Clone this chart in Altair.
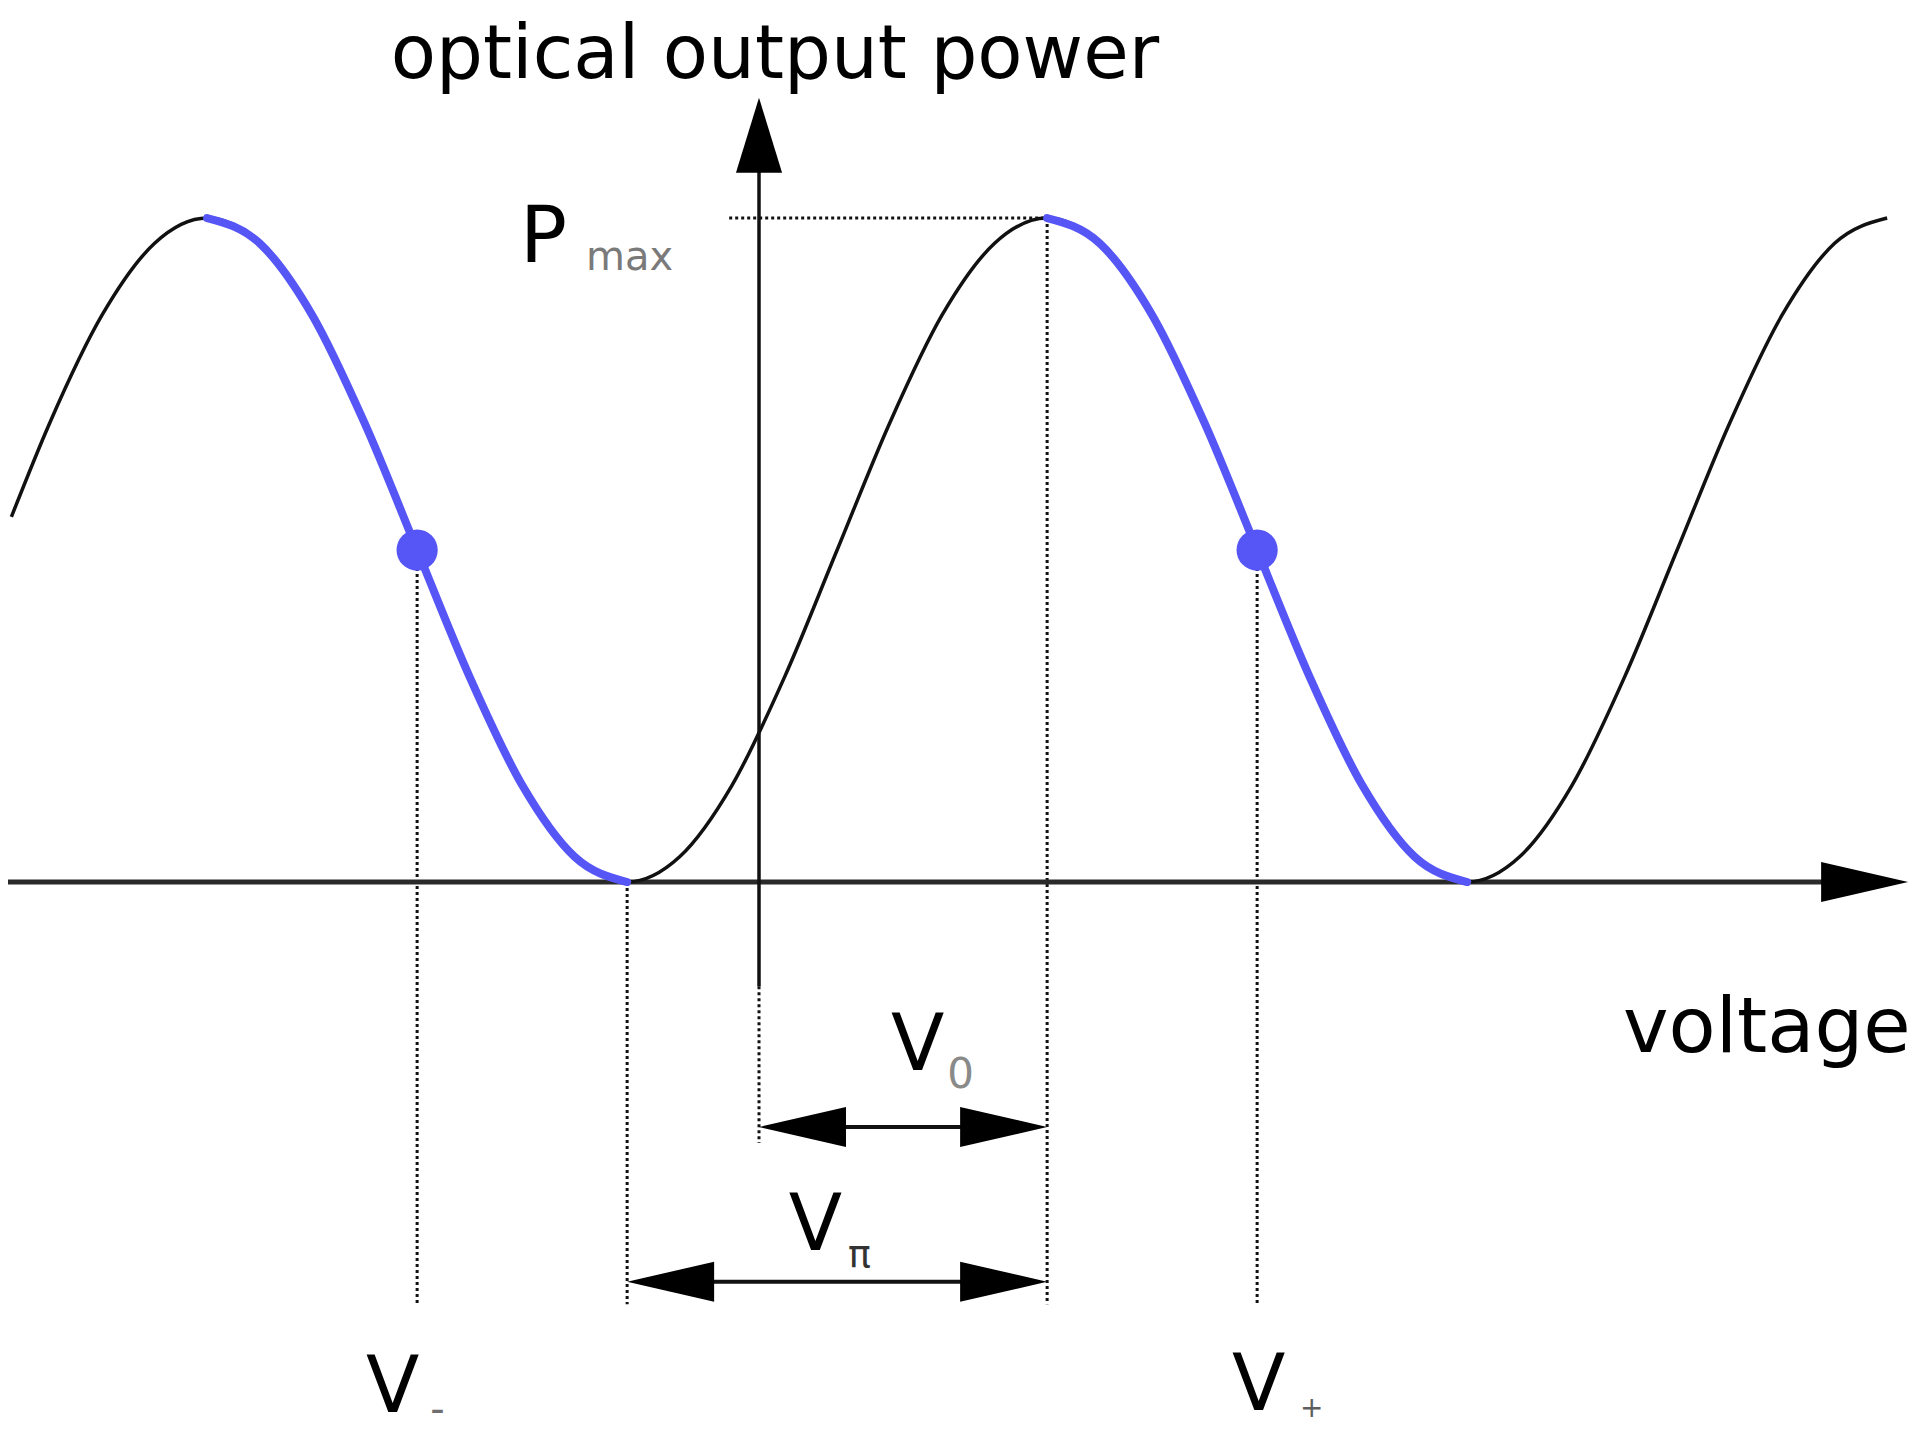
import altair as alt
import pandas as pd

# ---------------- data (voltage in units of V_pi, power in units of P_max) ----------------
V_0 = 0.686          # bias voltage of the peak
V_TROUGH = -0.314    # V_0 - V_pi
V_MINUS = -0.814
V_PLUS = 1.186

curve_v = [-1.78, -1.689, -1.564, -1.439,
           -1.314, -1.189, -1.064, -0.939, -0.814, -0.689, -0.564, -0.439, -0.314,
           -0.189, -0.064, 0.061, 0.186, 0.311, 0.436, 0.561, 0.686,
           0.811, 0.936, 1.061, 1.186, 1.311, 1.436, 1.561, 1.686,
           1.811, 1.936, 2.061, 2.186, 2.311, 2.436, 2.561, 2.686]
curve_p = [0.55, 0.691, 0.854, 0.962,
           1.0, 0.962, 0.854, 0.691, 0.5, 0.309, 0.146, 0.038, 0.0,
           0.038, 0.146, 0.309, 0.5, 0.691, 0.854, 0.962, 1.0,
           0.962, 0.854, 0.691, 0.5, 0.309, 0.146, 0.038, 0.0,
           0.038, 0.146, 0.309, 0.5, 0.691, 0.854, 0.962, 1.0]

blue_seg = [1] * 9 + [2] * 9
blue_v = [-1.314, -1.189, -1.064, -0.939, -0.814, -0.689, -0.564, -0.439, -0.314,
          0.686, 0.811, 0.936, 1.061, 1.186, 1.311, 1.436, 1.561, 1.686]
blue_p = [1.0, 0.962, 0.854, 0.691, 0.5, 0.309, 0.146, 0.038, 0.0,
          1.0, 0.962, 0.854, 0.691, 0.5, 0.309, 0.146, 0.038, 0.0]

bias_v = [V_MINUS, V_PLUS]
bias_p = [0.5, 0.5]

# ---------------- layout ----------------
XMIN, XMAX = -1.7881, 2.7452
YMIN, YMAX = -0.8283, 1.3163
BLUE = "#5656f6"
FONT = "DejaVu Sans"

X = alt.X("v:Q", scale=alt.Scale(domain=[XMIN, XMAX], nice=False, zero=False), axis=None)
Y = alt.Y("p:Q", scale=alt.Scale(domain=[YMIN, YMAX], nice=False, zero=False), axis=None)


def segs(rows):
    return pd.DataFrame(rows, columns=["v", "p", "v2", "p2"])


def rule_layer(df, **kw):
    return alt.Chart(df).mark_rule(**kw).encode(x=X, y=Y, x2="v2:Q", y2="p2:Q")


# dotted guide lines
dotted = segs([
    [V_MINUS, 0.5, V_MINUS, -0.636],
    [V_TROUGH, 0.0, V_TROUGH, -0.636],
    [V_0, 1.0, V_0, -0.636],
    [V_PLUS, 0.5, V_PLUS, -0.636],
    [-0.071, 1.0, V_0, 1.0],
    [0.0, -0.157, 0.0, -0.393],
])
l_dotted = rule_layer(dotted, color="#111111", strokeWidth=3, strokeDash=[3, 3])

# axes lines
l_xaxis = rule_layer(segs([[-1.80, 0.0, 2.56, 0.0]]), color="#2a2a2a", strokeWidth=5)
l_yaxis = rule_layer(segs([[0.0, -0.157, 0.0, 1.10]]), color="#111111", strokeWidth=3.5)
l_dims = rule_layer(segs([[0.05, -0.369, 0.64, -0.369],
                          [-0.26, -0.602, 0.64, -0.602]]), color="#111111", strokeWidth=4)

# arrow heads (tip at the data point)
RIGHT = "M 0 0 L -2 -0.46 L -2 0.46 Z"
LEFT = "M 0 0 L 2 -0.46 L 2 0.46 Z"
UP = "M 0 0 L -0.53 1.72 L 0.53 1.72 Z"
heads = pd.DataFrame({
    "v": [2.736, 0.0, 0.0, V_0, V_TROUGH, V_0],
    "p": [0.0, 1.181, -0.369, -0.369, -0.602, -0.602],
    "shape": [RIGHT, UP, LEFT, RIGHT, LEFT, RIGHT],
})
l_heads = alt.Chart(heads).mark_point(filled=True, opacity=1, size=7569, color="#000000",
                                      strokeWidth=0).encode(
    x=X, y=Y, shape=alt.Shape("shape:N", scale=None))

# curves
curve = pd.DataFrame({"v": curve_v, "p": curve_p})
l_curve = alt.Chart(curve).mark_line(color="#111111", strokeWidth=3.5,
                                     interpolate="monotone").encode(x=X, y=Y)
blue = pd.DataFrame({"v": blue_v, "p": blue_p, "seg": blue_seg})
l_blue = alt.Chart(blue).mark_line(color=BLUE, strokeWidth=8, interpolate="monotone",
                                   strokeCap="round").encode(x=X, y=Y, detail="seg:N")
l_bias = alt.Chart(pd.DataFrame({"v": bias_v, "p": bias_p})).mark_circle(
    size=1700, color=BLUE, opacity=1).encode(x=X, y=Y)

# text
main_lbl = pd.DataFrame({
    "t": ["V", "V", "V", "V", "P"],
    "v": [-0.936, 1.126, 0.314, 0.071, -0.569],
    "p": [-0.798, -0.795, -0.283, -0.554, 0.934],
})
l_main = alt.Chart(main_lbl).mark_text(align="left", baseline="alphabetic", font=FONT,
                                       fontSize=78, color="#000000").encode(x=X, y=Y, text="t:N")

sub_lbl = pd.DataFrame({
    "t": ["-", "+", "0", "π", "max"],
    "v": [-0.783, 1.288, 0.448, 0.212, -0.412],
    "p": [-0.815, -0.806, -0.310, -0.580, 0.922],
    "fs": [40, 28, 42, 38, 40],
    "c": ["#6e6e6e", "#5e5e5e", "#8a8a8a", "#333333", "#7a7a7a"],
})
l_sub = alt.Chart(sub_lbl).mark_text(align="left", baseline="alphabetic", font=FONT).encode(
    x=X, y=Y, text="t:N", size=alt.Size("fs:Q", scale=None), color=alt.Color("c:N", scale=None))

l_title = alt.Chart(pd.DataFrame({"t": ["optical output power"], "v": [0.038], "p": [1.211]})).mark_text(
    align="center", baseline="alphabetic", font=FONT, fontSize=74, color="#000000").encode(
    x=X, y=Y, text="t:N")
l_xname = alt.Chart(pd.DataFrame({"t": ["voltage"], "v": [2.057], "p": [-0.256]})).mark_text(
    align="left", baseline="alphabetic", font=FONT, fontSize=77, color="#000000").encode(
    x=X, y=Y, text="t:N")

chart = alt.layer(
    l_dotted, l_xaxis, l_yaxis, l_dims, l_curve, l_blue, l_bias, l_heads,
    l_main, l_sub, l_title, l_xname,
).properties(width=1904, height=1424, padding=0, autosize="none",
             background="#ffffff").configure_view(stroke=None)

chart.save("out.html", embed_options={"renderer": "svg", "actions": False})
